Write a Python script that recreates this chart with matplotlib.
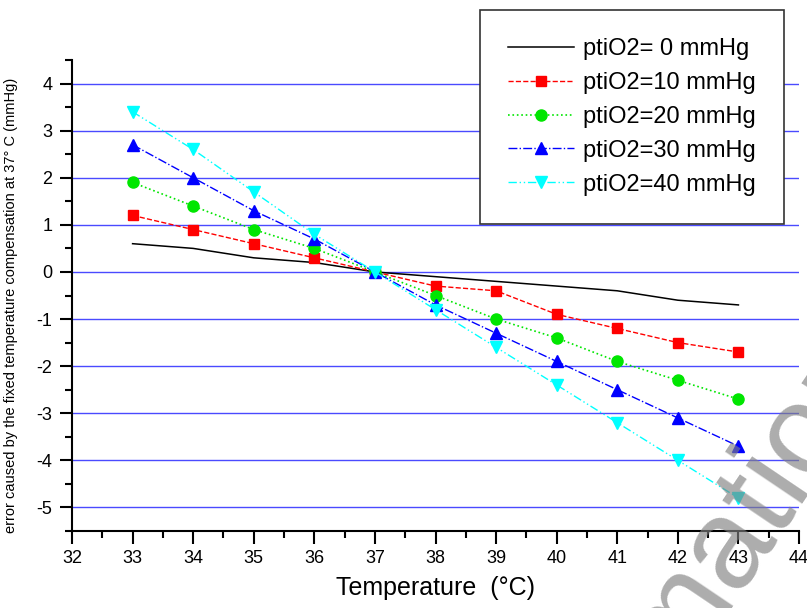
import numpy as np
import matplotlib.pyplot as plt
from matplotlib.ticker import MultipleLocator

plt.rcParams['font.family'] = ['Liberation Sans', 'DejaVu Sans']
plt.rcParams['axes.unicode_minus'] = False

# Data
temps = np.array([33, 34, 35, 36, 37, 38, 39, 40, 41, 42, 43])
err_0 = [0.6, 0.5, 0.3, 0.2, 0.0, -0.1, -0.2, -0.3, -0.4, -0.6, -0.7]
err_10 = [1.2, 0.9, 0.6, 0.3, 0.0, -0.3, -0.4, -0.9, -1.2, -1.5, -1.7]
err_20 = [1.9, 1.4, 0.9, 0.5, 0.0, -0.5, -1.0, -1.4, -1.9, -2.3, -2.7]
err_30 = [2.7, 2.0, 1.3, 0.7, 0.0, -0.7, -1.3, -1.9, -2.5, -3.1, -3.7]
err_40 = [3.4, 2.6, 1.7, 0.8, 0.0, -0.8, -1.6, -2.4, -3.2, -4.0, -4.8]
labels = ['ptiO2= 0 mmHg', 'ptiO2=10 mmHg', 'ptiO2=20 mmHg',
          'ptiO2=30 mmHg', 'ptiO2=40 mmHg']

fig = plt.figure(figsize=(8.07, 6.08), dpi=100)
ax = fig.add_axes([72/807, 77/608, 727/807, 471/608])

for y in range(-5, 5):
    ax.axhline(y, color='#4a4aff', lw=1, zorder=0)

ax.plot(temps, err_0, color='black', lw=1.1, label=labels[0])
ax.plot(temps, err_10, color='red', ls='--', lw=1, marker='s', ms=7.5, label=labels[1])
ax.plot(temps, err_20, color='#00e600', ls=':', lw=1.2, marker='o', ms=8, label=labels[2])
ax.plot(temps, err_30, color='blue', ls='-.', lw=1, marker='^', ms=9, label=labels[3])
ax.plot(temps, err_40, color='cyan', ls=(0, (6, 2, 1, 2, 1, 2)), lw=1, marker='v', ms=9, label=labels[4])

ax.set_xlim(32, 44)
ax.set_ylim(-5.5, 4.5)
ax.xaxis.set_major_locator(MultipleLocator(1))
ax.xaxis.set_minor_locator(MultipleLocator(0.5))
ax.yaxis.set_major_locator(MultipleLocator(1))
ax.yaxis.set_minor_locator(MultipleLocator(0.5))
ax.tick_params(which='major', length=9, width=1.5, labelsize=13, pad=5)
ax.tick_params(which='minor', length=5, width=1.5)
for s in ['top', 'right']:
    ax.spines[s].set_visible(False)
for s in ['left', 'bottom']:
    ax.spines[s].set_linewidth(1.5)

ax.set_xlabel('Temperature  (°C)', fontsize=18, labelpad=6)
ax.set_ylabel('error caused by the fixed temperature compensation at 37° C (mmHg)', fontsize=10.5)
ax.yaxis.set_label_coords(-54/727, 0.48)

leg = fig.legend(loc='upper left', bbox_to_anchor=(480/807, 1 - 10/608), fontsize=17,
                 frameon=True, fancybox=False, edgecolor='#333333', framealpha=1,
                 handlelength=2.8, borderpad=1.2, labelspacing=0.5, handletextpad=0.35,
                 borderaxespad=0)
leg.get_frame().set_linewidth(1.2)

# grey watermark across the lower right corner
wm_size = 92
wm_rot = 56
theta = np.radians(wm_rot)
rend = fig.canvas.get_renderer()
tmp = fig.text(0, 0, 'Inform', fontsize=wm_size)
w_pre = tmp.get_window_extent(rend).width
tmp.set_text('a')
w_a = tmp.get_window_extent(rend).width
tmp.remove()
s_px = wm_size * fig.dpi / 72
cx, cy = 725, 608 - 540
along = w_pre + w_a / 2
ax0 = cx - along * np.cos(theta) + 0.27 * s_px * np.sin(theta)
ay0 = cy - along * np.sin(theta) - 0.27 * s_px * np.cos(theta)
fig.text(ax0 / 807, ay0 / 608, 'Information', fontsize=wm_size,
         color='#808080', alpha=0.65, rotation=wm_rot, rotation_mode='anchor',
         ha='left', va='baseline')

fig.savefig('out.png', dpi=100)
